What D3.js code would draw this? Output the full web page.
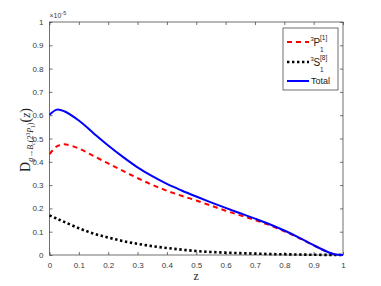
<!DOCTYPE html>
<html>
<head>
<meta charset="utf-8">
<script src="https://cdn.jsdelivr.net/npm/d3@7"></script>
<style>
  body { margin: 0; background: #fff; }
  svg { display: block; }
</style>
</head>
<body>
<div id="chart"></div>
<script>
// values in units of 1e-5
const zs     = [0, 0.025, 0.05, 0.1, 0.15, 0.2, 0.25, 0.3, 0.35, 0.4, 0.45, 0.5, 0.55, 0.6, 0.65, 0.7, 0.75, 0.8, 0.85, 0.9, 0.95, 0.975, 1];
const p1     = [0.433, 0.466, 0.475, 0.457, 0.425, 0.393, 0.361, 0.330, 0.301, 0.276, 0.254, 0.234, 0.212, 0.190, 0.170, 0.150, 0.128, 0.102, 0.073, 0.041, 0.012, 0.002, 0];
const s8     = [0.170, 0.156, 0.142, 0.115, 0.092, 0.075, 0.060, 0.048, 0.038, 0.030, 0.023, 0.017, 0.013, 0.010, 0.008, 0.006, 0.004, 0.003, 0.002, 0.001, 0.0005, 0.0002, 0];
const total  = [0.602, 0.624, 0.617, 0.577, 0.523, 0.470, 0.421, 0.376, 0.338, 0.305, 0.277, 0.251, 0.226, 0.202, 0.179, 0.156, 0.132, 0.105, 0.075, 0.042, 0.012, 0.002, 0];
const xTicks = [0, 0.1, 0.2, 0.3, 0.4, 0.5, 0.6, 0.7, 0.8, 0.9, 1];
const yTicks = [0, 0.1, 0.2, 0.3, 0.4, 0.5, 0.6, 0.7, 0.8, 0.9, 1];

const width = 381, height = 286;
const margin = { left: 49.5, right: 38, top: 22, bottom: 31 };
const w = width - margin.left - margin.right;
const h = height - margin.top - margin.bottom;

const svg = d3.select("#chart").append("svg")
  .attr("width", width).attr("height", height);

const g = svg.append("g")
  .attr("transform", `translate(${margin.left}, ${margin.top})`);

const x = d3.scaleLinear().domain([0, 1]).range([0, w]);
const y = d3.scaleLinear().domain([0, 1]).range([h, 0]);

const axisColor = "#4d4d4d";
const font = "Liberation Sans, Arial, sans-serif";

// box
g.append("rect").attr("width", w).attr("height", h)
  .attr("fill", "none").attr("stroke", axisColor).attr("stroke-width", 0.8);

const styleAxis = sel => {
  sel.select(".domain").remove();
  sel.selectAll("line").attr("stroke", axisColor).attr("stroke-width", 0.8);
  sel.selectAll("text").attr("fill", "#3a3a3a").attr("font-family", font).attr("font-size", 8);
};

g.append("g").attr("transform", `translate(0, ${h})`)
  .call(d3.axisBottom(x).tickValues(xTicks).tickSize(-3).tickPadding(7).tickFormat(d3.format("")))
  .call(styleAxis);
g.append("g")
  .call(d3.axisTop(x).tickValues(xTicks).tickSize(-3).tickFormat(""))
  .call(styleAxis);
g.append("g")
  .call(d3.axisLeft(y).tickValues(yTicks).tickSize(-3).tickPadding(6).tickFormat(d3.format("")))
  .call(styleAxis);
g.append("g").attr("transform", `translate(${w}, 0)`)
  .call(d3.axisRight(y).tickValues(yTicks).tickSize(-3).tickFormat(""))
  .call(styleAxis);

// exponent
const ex = g.append("text").attr("x", 0).attr("y", -4)
  .attr("font-family", font).attr("font-size", 7).attr("fill", "#3a3a3a");
ex.append("tspan").text("\u00d710");
ex.append("tspan").attr("dy", -3).attr("font-size", 5.5).text("-5");

const line = vals => d3.line()
  .x((d, i) => x(zs[i]))
  .y(d => y(d))
  .curve(d3.curveCatmullRom.alpha(0.5))(vals);

g.append("path").attr("d", line(p1)).attr("fill", "none")
  .attr("stroke", "#ff0000").attr("stroke-width", 2).attr("stroke-dasharray", "5,4");
g.append("path").attr("d", line(s8)).attr("fill", "none")
  .attr("stroke", "#000").attr("stroke-width", 2.6).attr("stroke-dasharray", "2.4,2.6");
g.append("path").attr("d", line(total)).attr("fill", "none")
  .attr("stroke", "#0000ff").attr("stroke-width", 2);

// x label
svg.append("text").attr("x", margin.left + x(0.5)).attr("y", 280)
  .attr("text-anchor", "middle").attr("font-family", "Liberation Serif, DejaVu Serif, serif")
  .attr("font-size", 12).attr("fill", "#222").text("z");

// y label
const yl = svg.append("text")
  .attr("transform", `translate(30, 140) rotate(-90)`)
  .attr("text-anchor", "middle")
  .attr("font-family", "Liberation Serif, DejaVu Serif, serif")
  .attr("fill", "#222");
yl.append("tspan").attr("font-size", 14).text("D");
yl.append("tspan").attr("font-size", 8).attr("font-style", "italic").attr("dy", 3).text("g\u2192B");
yl.append("tspan").attr("font-size", 6).attr("font-style", "italic").attr("dy", 1.5).text("c");
yl.append("tspan").attr("font-size", 8).attr("dy", -1.5).text("(2");
yl.append("tspan").attr("font-size", 5.5).attr("dy", -3).text("3");
yl.append("tspan").attr("font-size", 8).attr("font-style", "italic").attr("dy", 3).text("P");
yl.append("tspan").attr("font-size", 5.5).attr("dy", 1.5).text("1");
yl.append("tspan").attr("font-size", 8).attr("dy", -1.5).text(")");
yl.append("tspan").attr("font-size", 14).attr("dy", -3).text("(");
yl.append("tspan").attr("font-size", 13).attr("font-style", "italic").text("z");
yl.append("tspan").attr("font-size", 14).text(")");

// legend
const legend = svg.append("g").attr("transform", "translate(283, 28)");
legend.append("rect").attr("width", 55).attr("height", 62)
  .attr("fill", "#fff").attr("stroke", axisColor).attr("stroke-width", 0.8);
const entries = [
  { color: "#ff0000", dash: "5,4", sw: 2, label: ["3", "P", "1", "[1]"], yy: 14 },
  { color: "#000", dash: "2.4,2.6", sw: 2.6, label: ["3", "S", "1", "[8]"], yy: 34 },
  { color: "#0000ff", dash: null, sw: 2, label: null, yy: 53 }
];
entries.forEach(e => {
  legend.append("line").attr("x1", 4).attr("x2", 26).attr("y1", e.yy).attr("y2", e.yy)
    .attr("stroke", e.color).attr("stroke-width", e.sw)
    .attr("stroke-dasharray", e.dash);
  if (e.label) {
    legend.append("text").attr("x", 27.5).attr("y", e.yy - 1)
      .attr("font-family", font).attr("font-size", 6).attr("fill", "#222").text(e.label[0]);
    legend.append("text").attr("x", 30.5).attr("y", e.yy + 3.5)
      .attr("font-family", font).attr("font-size", 10).attr("fill", "#222").text(e.label[1]);
    legend.append("text").attr("x", 37).attr("y", e.yy + 9.5)
      .attr("font-family", font).attr("font-size", 6.5).attr("fill", "#222").text(e.label[2]);
    legend.append("text").attr("x", 37).attr("y", e.yy - 2.5)
      .attr("font-family", font).attr("font-size", 6.5).attr("fill", "#222").text(e.label[3]);
  } else {
    legend.append("text").attr("x", 28).attr("y", e.yy + 3)
      .attr("font-family", font).attr("font-size", 9).attr("fill", "#222").text("Total");
  }
});
</script>
</body>
</html>
